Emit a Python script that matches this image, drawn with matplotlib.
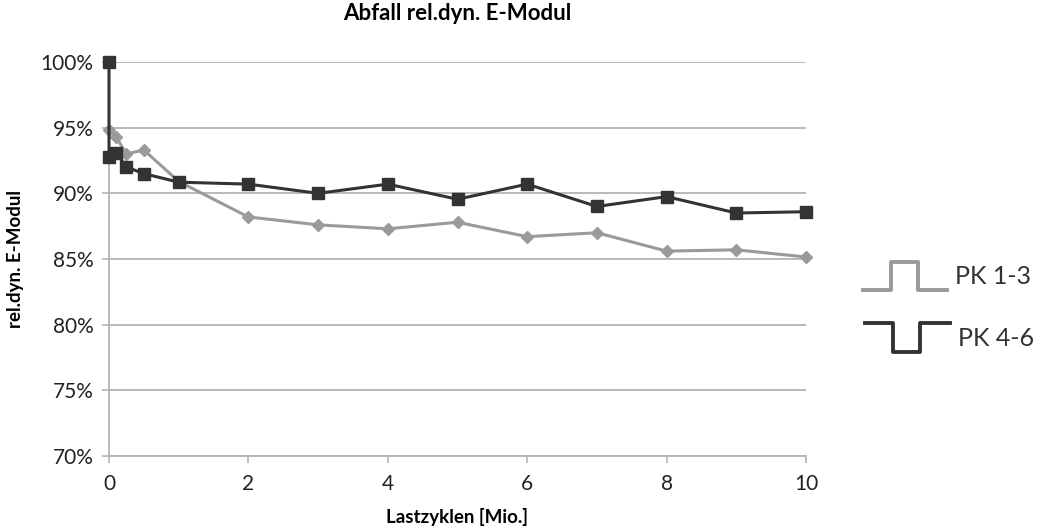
import matplotlib.pyplot as plt
from matplotlib.lines import Line2D
from matplotlib.ticker import FuncFormatter

plt.rcParams['font.family'] = ['Lato', 'DejaVu Sans']

# Lastzyklen in Mio.
x_pk13 = [0, 0.1, 0.25, 0.5, 1, 2, 3, 4, 5, 6, 7, 8, 9, 10]
y_pk13 = [94.8, 94.3, 93.0, 93.3, 90.9, 88.2, 87.6, 87.3, 87.8, 86.7, 87.0, 85.6, 85.7, 85.15]

x_pk46 = [0, 0, 0.1, 0.25, 0.5, 1, 2, 3, 4, 5, 6, 7, 8, 9, 10]
y_pk46 = [100.0, 92.8, 93.1, 92.0, 91.5, 90.85, 90.7, 90.0, 90.7, 89.55, 90.7, 89.0, 89.75, 88.5, 88.6]

labels = ['PK 1-3', 'PK 4-6']
yticks = [70, 75, 80, 85, 90, 95, 100]
xticks = [0, 2, 4, 6, 8, 10]

light = '#9a9a9a'
dark = '#333333'
grid = '#b4b4b4'

fig = plt.figure(figsize=(10.43, 5.28), dpi=100)
ax = fig.add_axes([109 / 1043, 1 - 456 / 528, 697 / 1043, 394 / 528])

ax.plot(x_pk13, y_pk13, color=light, lw=2.2, marker='D', ms=6,
        mfc=light, mec=light, zorder=3, clip_on=False)
ax.plot(x_pk46, y_pk46, color=dark, lw=2.2, marker='s', ms=8,
        mfc=dark, mec=dark, zorder=4, clip_on=False)

ax.set_xlim(0, 10)
ax.set_ylim(70, 100)
ax.set_xticks(xticks)
ax.set_yticks(yticks)
ax.yaxis.set_major_formatter(FuncFormatter(lambda v, p: f'{v:.0f}%'))
ax.grid(axis='y', color=grid, lw=1.3)
ax.set_axisbelow(True)

for s in ['top', 'right']:
    ax.spines[s].set_visible(False)
for s in ['left', 'bottom']:
    ax.spines[s].set_color(grid)
    ax.spines[s].set_linewidth(1.3)
ax.tick_params(axis='both', colors=grid, length=5, width=1.2, labelsize=15,
               labelcolor='#222222')
ax.tick_params(axis='x', pad=8)
ax.tick_params(axis='y', pad=6)

ax.set_title('Abfall rel.dyn. E-Modul', fontsize=16, fontweight='bold', pad=30)
ax.set_xlabel('Lastzyklen [Mio.]', fontsize=13.5, fontweight='bold', labelpad=10)
ax.set_ylabel('rel.dyn. E-Modul', fontsize=13.5, fontweight='bold', labelpad=12)

# Legende mit Belastungssymbolen (Rechteckimpuls)
def fx(px):
    return px / 1043

def fy(py):
    return 1 - py / 528

sym13 = Line2D([fx(863), fx(891), fx(891), fx(918), fx(918), fx(947)],
               [fy(290), fy(290), fy(262), fy(262), fy(290), fy(290)],
               color=light, lw=2.8, transform=fig.transFigure)
sym46 = Line2D([fx(865), fx(893), fx(893), fx(920), fx(920), fx(950)],
               [fy(323), fy(323), fy(352), fy(352), fy(323), fy(323)],
               color=dark, lw=2.8, transform=fig.transFigure)
fig.add_artist(sym13)
fig.add_artist(sym46)
fig.text(fx(955), fy(277), labels[0], fontsize=18, color='#333333', va='center')
fig.text(fx(958), fy(339), labels[1], fontsize=18, color='#333333', va='center')

fig.savefig('out.png', dpi=100)
